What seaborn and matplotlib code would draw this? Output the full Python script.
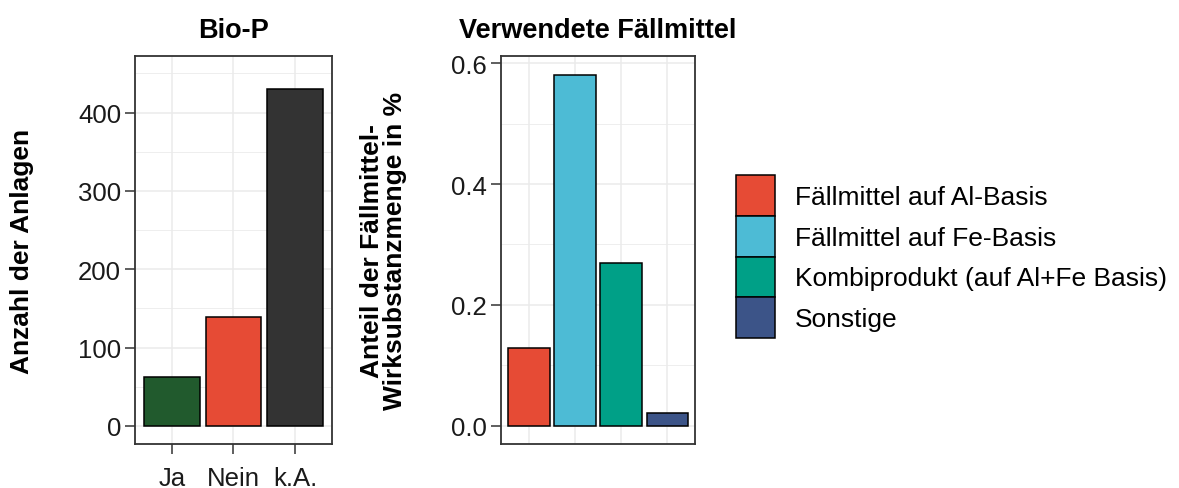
import pandas as pd
import numpy as np
import matplotlib
matplotlib.use('Agg')
import matplotlib.pyplot as plt
import seaborn as sns
from matplotlib.patches import Patch

# Daten
bio_p_kat = ['Ja', 'Nein', 'k.A.']
bio_p_anzahl = [62, 139, 430]
bio_p_farben = ['#215A2D', '#E64B35', '#333333']

faell_kat = ['Fällmittel auf Al-Basis', 'Fällmittel auf Fe-Basis',
             'Kombiprodukt (auf Al+Fe Basis)', 'Sonstige']
faell_anteil = [0.128, 0.581, 0.269, 0.021]
faell_farben = ['#E64B35', '#4DBBD5', '#00A087', '#3C5488']

sns.set_theme(style='whitegrid')
plt.rcParams['font.family'] = ['Liberation Sans', 'DejaVu Sans']
plt.rcParams['text.color'] = 'black'
plt.rcParams['axes.labelcolor'] = 'black'

df_bio = pd.DataFrame({'kat': bio_p_kat, 'n': bio_p_anzahl})
df_faell = pd.DataFrame({'kat': faell_kat, 'anteil': faell_anteil})

fig = plt.figure(figsize=(11.79, 4.89), dpi=100)
ax1 = fig.add_axes([0.1145, 0.090, 0.167, 0.793])
ax2 = fig.add_axes([0.425, 0.090, 0.1645, 0.793])

sns.barplot(data=df_bio, x='kat', y='n', hue='kat', order=bio_p_kat,
            palette=dict(zip(bio_p_kat, bio_p_farben)), width=0.9,
            edgecolor='black', linewidth=1.1, saturation=1, legend=False, ax=ax1)
sns.barplot(data=df_faell, x='kat', y='anteil', hue='kat', order=faell_kat,
            palette=dict(zip(faell_kat, faell_farben)), width=0.9,
            edgecolor='black', linewidth=1.1, saturation=1, legend=False, ax=ax2)

ax1.set_xlim(-0.6, 2.6)
ax1.set_ylim(-23, 472)
ax1.set_yticks([0, 100, 200, 300, 400])
ax1.set_yticks([50, 150, 250, 350, 450], minor=True)
ax2.set_xlim(-0.6, 3.6)
ax2.set_ylim(-0.0303, 0.6115)
ax2.set_yticks([0.0, 0.2, 0.4, 0.6])
ax2.set_yticklabels(['0.0', '0.2', '0.4', '0.6'])
ax2.set_yticks([0.1, 0.3, 0.5], minor=True)

for ax in (ax1, ax2):
    ax.set_axisbelow(True)
    ax.grid(True, which='major', color='#EBEBEB', linewidth=1.1)
    ax.grid(True, which='minor', axis='y', color='#EBEBEB', linewidth=0.6)
    for s in ax.spines.values():
        s.set_visible(True)
        s.set_color('#333333')
        s.set_linewidth(1.3)
    ax.tick_params(axis='y', which='major', left=True, length=7, width=1.1,
                   color='#333333', labelsize=18.5, labelcolor='#1A1A1A', pad=3)
    ax.tick_params(axis='y', which='minor', left=False)
    ax.set_xlabel('')

ax1.tick_params(axis='x', bottom=True, length=7, width=1.1, color='#333333',
                labelsize=18.5, labelcolor='#1A1A1A', pad=9)
ax2.tick_params(axis='x', bottom=False, labelbottom=False)

ax1.set_ylabel('Anzahl der Anlagen', fontsize=19, fontweight='bold')
ax1.yaxis.set_label_coords(-0.515, 0.5)
ax2.set_ylabel('Anteil der Fällmittel-\nWirksubstanzmenge in %', fontsize=19,
               fontweight='bold', linespacing=0.95)
ax2.yaxis.set_label_coords(-0.485, 0.5)
ax1.set_title('Bio-P', fontsize=19.5, fontweight='bold', pad=14)
ax2.set_title('Verwendete Fällmittel', fontsize=19.5, fontweight='bold', pad=14)

handles = [Patch(facecolor=c, edgecolor='black', linewidth=1.1) for c in faell_farben]
fig.legend(handles, faell_kat, loc='center left', bbox_to_anchor=(0.624, 0.473),
           frameon=False, fontsize=19, handlelength=1.48, handleheight=2.0,
           labelspacing=0.0, handletextpad=0.76, borderpad=0, borderaxespad=0)

fig.savefig('out.png', dpi=100, facecolor='white')
